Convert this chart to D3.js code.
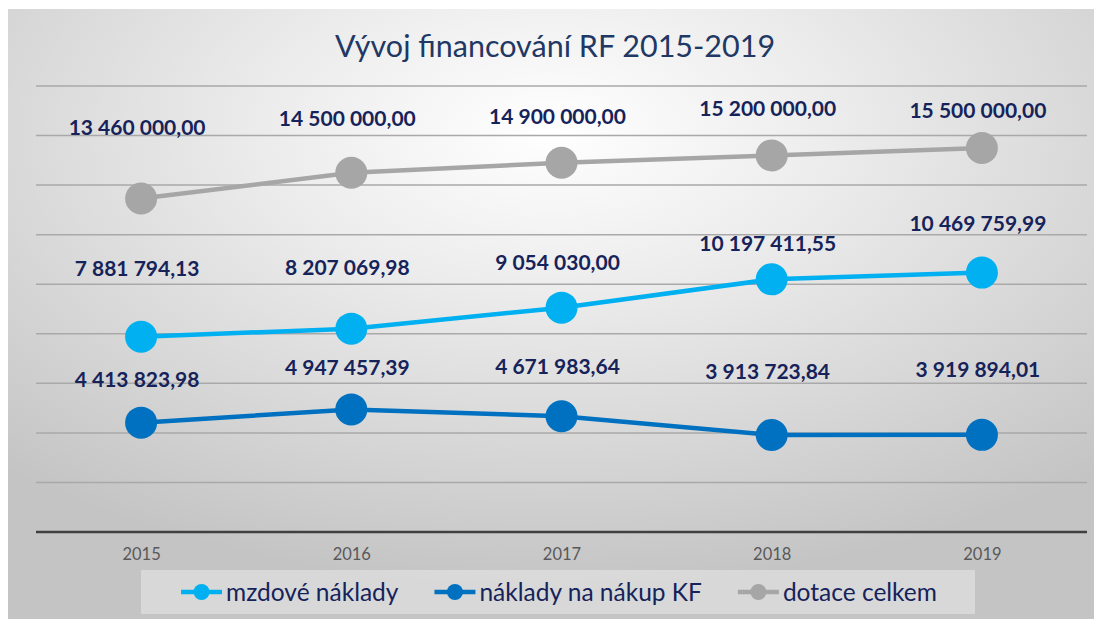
<!DOCTYPE html>
<html>
<head>
<meta charset="utf-8">
<script src="https://cdn.jsdelivr.net/npm/d3@7"></script>
<style>
  body { margin: 0; background: #fff; }
  svg { display: block; }
</style>
</head>
<body>
<div id="chart"></div>
<script>
// data
const years = ["2015", "2016", "2017", "2018", "2019"];
const mzdove = [7881794.13, 8207069.98, 9054030.00, 10197411.55, 10469759.99];
const nakupKF = [4413823.98, 4947457.39, 4671983.64, 3913723.84, 3919894.01];
const dotace = [13460000, 14500000, 14900000, 15200000, 15500000];
const seriesNames = ["mzdové náklady", "náklady na nákup KF", "dotace celkem"];
const yTicks = [0, 2e6, 4e6, 6e6, 8e6, 10e6, 12e6, 14e6, 16e6, 18e6];

// label offsets (px above point), hand placed like in the original
const labelDy = [
    [-68, -61, -45, -36, -49],
    [-43, -42, -50, -63, -65],
    [-71, -54, -46, -47, -37]
];

const width = 1094, height = 619;
const colors = ["#00b0f0", "#0070c0", "#a6a6a6"];
const navy = "#16235a";

const svg = d3.select("#chart").append("svg")
    .attr("width", width)
    .attr("height", height);

const defs = svg.append("defs");
const grad = defs.append("radialGradient")
    .attr("id", "bg")
    .attr("cx", 0.5).attr("cy", 0.2).attr("r", 0.75);
grad.append("stop").attr("offset", 0).attr("stop-color", "#ffffff");
grad.append("stop").attr("offset", 0.35).attr("stop-color", "#ececec");
grad.append("stop").attr("offset", 1).attr("stop-color", "#c4c4c4");

svg.append("rect")
    .attr("x", 8).attr("y", 9)
    .attr("width", width - 8).attr("height", height - 9)
    .attr("fill", "url(#bg)");

const x = d3.scalePoint().domain(years).range([36, 1087]).padding(0.5);
const y = d3.scaleLinear().domain([0, 18e6]).range([532, 86]);

// gridlines
svg.append("g").selectAll("line")
    .data(yTicks.filter(d => d > 0))
    .enter().append("line")
    .attr("x1", 36).attr("x2", 1087)
    .attr("y1", d => y(d)).attr("y2", d => y(d))
    .attr("stroke", "#a9a9a9")
    .attr("stroke-width", 1.5);

// x axis
const xAxis = svg.append("g")
    .attr("transform", `translate(0,${y(0)})`)
    .call(d3.axisBottom(x).tickSize(0).tickPadding(16));
xAxis.select(".domain")
    .attr("d", "M36,0H1087")
    .attr("stroke", "#404040")
    .attr("stroke-width", 2.5);
xAxis.selectAll("text")
    .attr("font-family", "Lato, sans-serif")
    .attr("font-size", 16.5)
    .attr("fill", "#595959");

// title
svg.append("text")
    .attr("x", 555).attr("y", 57)
    .attr("text-anchor", "middle")
    .attr("font-family", "Lato, sans-serif")
    .attr("font-size", 30.5)
    .attr("fill", "#1f3864")
    .text("Vývoj financování RF 2015-2019");

const cz = d3.formatLocale({ decimal: ",", thousands: "\u00a0", grouping: [3], currency: ["", ""] });
const fmt = cz.format(",.2f");

const allSeries = [mzdove, nakupKF, dotace];
const line = d3.line().x((d, i) => x(years[i])).y(d => y(d));

allSeries.forEach((vals, s) => {
    const g = svg.append("g");
    g.append("path")
        .datum(vals)
        .attr("d", line)
        .attr("fill", "none")
        .attr("stroke", colors[s])
        .attr("stroke-width", 4.5);
    g.selectAll("circle")
        .data(vals)
        .enter().append("circle")
        .attr("cx", (d, i) => x(years[i]))
        .attr("cy", d => y(d))
        .attr("r", 16)
        .attr("fill", colors[s]);
});

// data labels
allSeries.forEach((vals, s) => {
    svg.append("g").selectAll("text")
        .data(vals)
        .enter().append("text")
        .attr("x", (d, i) => x(years[i]) - 4)
        .attr("y", (d, i) => y(d) + labelDy[s][i])
        .attr("dy", "0.35em")
        .attr("text-anchor", "middle")
        .attr("font-family", "Lato, sans-serif")
        .attr("font-weight", "bold")
        .attr("font-size", 21)
        .attr("fill", navy)
        .text(d => fmt(d));
});

// legend
const legend = svg.append("g");
legend.append("rect")
    .attr("x", 141).attr("y", 570)
    .attr("width", 834).attr("height", 44)
    .attr("fill", "#ffffff")
    .attr("fill-opacity", 0.35);

const items = legend.selectAll(".item")
    .data(seriesNames)
    .enter().append("g")
    .attr("class", "item");
items.append("line")
    .attr("x1", 0).attr("x2", 41)
    .attr("y1", 0).attr("y2", 0)
    .attr("stroke", (d, i) => colors[i])
    .attr("stroke-width", 4.5);
items.append("circle")
    .attr("cx", 20.5).attr("cy", 0).attr("r", 8)
    .attr("fill", (d, i) => colors[i]);
items.append("text")
    .attr("x", 45).attr("y", 0).attr("dy", "0.35em")
    .attr("font-family", "Lato, sans-serif")
    .attr("font-size", 24.5)
    .attr("fill", navy)
    .text(d => d);

const gap = 36;
const widths = [];
items.each(function () {
    widths.push(45 + this.querySelector("text").getComputedTextLength());
});
const total = d3.sum(widths) + gap * (widths.length - 1);
let cursor = 559 - total / 2;
items.attr("transform", (d, i) => {
    const t = `translate(${cursor},592)`;
    cursor += widths[i] + gap;
    return t;
});
</script>
</body>
</html>
